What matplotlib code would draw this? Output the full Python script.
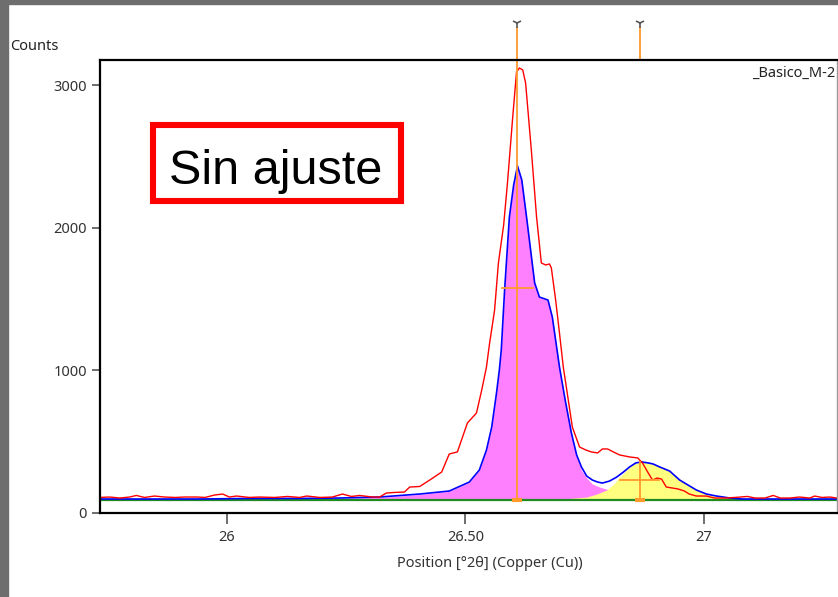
import numpy as np
import matplotlib.pyplot as plt
from matplotlib import font_manager
from matplotlib.patches import Rectangle

# Observed profile (red)
obs_x = [25.733, 25.754, 25.775, 25.796, 25.810, 25.827, 25.848, 25.869, 25.891, 25.911,
         25.937, 25.954, 25.974, 25.991, 26.005, 26.020, 26.047, 26.068, 26.100, 26.127,
         26.152, 26.167, 26.195, 26.221, 26.242, 26.261, 26.278, 26.305, 26.320, 26.334,
         26.351, 26.372, 26.383, 26.404, 26.425, 26.450, 26.466, 26.483, 26.504, 26.523,
         26.534, 26.544, 26.550, 26.561, 26.569, 26.580, 26.588, 26.599, 26.607, 26.613,
         26.620, 26.626, 26.638, 26.649, 26.659, 26.668, 26.676, 26.680, 26.689, 26.697,
         26.705, 26.724, 26.739, 26.752, 26.764, 26.777, 26.787, 26.798, 26.810, 26.823,
         26.844, 26.861, 26.871, 26.882, 26.892, 26.902, 26.911, 26.921, 26.934, 26.946,
         26.959, 26.969, 26.984, 27.005, 27.022, 27.044, 27.065, 27.091, 27.107, 27.128,
         27.145, 27.160, 27.180, 27.200, 27.222, 27.232, 27.247, 27.264, 27.278]
obs_y = [109, 112, 105, 112, 123, 109, 119, 112, 109, 112,
         112, 109, 126, 133, 112, 119, 109, 112, 109, 116,
         109, 119, 109, 112, 133, 116, 123, 112, 112, 140,
         144, 147, 182, 186, 231, 287, 414, 428, 631, 701,
         862, 1024, 1178, 1423, 1753, 2019, 2314, 2776, 3092, 3120,
         3106, 3015, 2545, 2075, 1753, 1739, 1746, 1718, 1493, 1262,
         1024, 603, 463, 442, 428, 421, 449, 449, 428, 407,
         393, 386, 351, 287, 231, 245, 238, 182, 175, 168,
         154, 133, 119, 119, 105, 105, 109, 116, 105, 105,
         123, 105, 105, 112, 105, 119, 109, 112, 105]

# Calculated profile (blue)
calc_x = [25.733, 25.942, 26.047, 26.152, 26.236, 26.320, 26.404, 26.466, 26.508, 26.529,
          26.544, 26.555, 26.565, 26.571, 26.575, 26.582, 26.592, 26.601, 26.609, 26.618,
          26.628, 26.645, 26.655, 26.667, 26.673, 26.682, 26.697, 26.709, 26.722, 26.733,
          26.743, 26.754, 26.766, 26.777, 26.787, 26.802, 26.817, 26.831, 26.844, 26.857,
          26.869, 26.883, 26.893, 26.907, 26.928, 26.949, 26.970, 26.984, 27.005, 27.026,
          27.054, 27.081, 27.278]
calc_y = [98, 98, 102, 102, 105, 112, 133, 154, 217, 301,
          442, 603, 841, 1003, 1143, 1563, 2075, 2300, 2433, 2335,
          2075, 1613, 1514, 1500, 1493, 1374, 1024, 792, 561, 407,
          323, 259, 231, 217, 210, 224, 252, 287, 323, 351,
          358, 351, 344, 323, 294, 231, 189, 161, 133, 119,
          105, 98, 98]

# Peak 1 component (magenta)
p1_x = [25.733, 26.047, 26.236, 26.320, 26.404, 26.466, 26.508, 26.529, 26.544, 26.555,
        26.565, 26.571, 26.575, 26.582, 26.592, 26.601, 26.609, 26.618, 26.628, 26.645,
        26.655, 26.667, 26.673, 26.682, 26.697, 26.709, 26.722, 26.733, 26.743, 26.754,
        26.766, 26.781, 26.802, 26.823, 26.844, 26.865, 26.907, 26.990, 27.075, 27.278]
p1_y = [97, 100, 103, 109, 130, 152, 215, 299, 440, 600,
        838, 1000, 1140, 1560, 2072, 2297, 2430, 2332, 2072, 1610,
        1510, 1496, 1489, 1368, 1016, 782, 547, 393, 301, 245,
        203, 182, 161, 140, 126, 116, 109, 102, 98, 96]

# Peak 2 component (yellow)
p2_x = [26.588, 26.655, 26.718, 26.754, 26.775, 26.796, 26.811, 26.823, 26.838, 26.850,
        26.865, 26.883, 26.893, 26.907, 26.928, 26.949, 26.970, 26.984, 27.005, 27.026,
        27.054, 27.081, 27.278]
p2_y = [96, 98, 102, 112, 133, 161, 203, 252, 301, 337,
        358, 351, 344, 323, 294, 231, 189, 161, 133, 119,
        105, 98, 96]

background = 91
peak_pos = [26.609, 26.865]
peak_top = [3176, 358]
half_height = [1577, 231]
fwhm = [0.067, 0.082]

names = {f.name for f in font_manager.fontManager.ttflist}
big_font = 'Liberation Sans Narrow' if 'Liberation Sans Narrow' in names else 'Liberation Sans'
big_size = 40 if big_font == 'Liberation Sans Narrow' else 35
plt.rcParams['font.family'] = ['Noto Sans', 'DejaVu Sans']

fig = plt.figure(figsize=(8.38, 5.97), dpi=100)
ax = fig.add_axes([100 / 838, 84 / 597, 737 / 838, 453 / 597])

bg1 = np.full(len(p1_x), background)
bg2 = np.full(len(p2_x), background)
ax.fill_between(p1_x, bg1, p1_y, color='#ff80ff', lw=0)
ax.fill_between(p2_x, bg2, p2_y, color='#ffff80', lw=0)
ax.axhline(background, color='#1f8a1f', lw=1.6)
ax.plot(calc_x, calc_y, color='#0000ff', lw=1.2)
ax.plot(obs_x, obs_y, color='#ff0000', lw=1.0)

# peak markers
orange = '#ff9a2e'
trans = ax.get_xaxis_transform()
for i, p in enumerate(peak_pos):
    ax.plot([p, p], [background, peak_top[i]], color=orange, lw=1.3)
    ax.plot([p - fwhm[i] / 2, p + fwhm[i] / 2], [half_height[i]] * 2, color=orange, lw=1.3)
    ax.plot([p], [background], marker='_', ms=7, mew=3, color=orange)
    ax.plot([p, p], [1.0, 1.071], color=orange, lw=1.3, transform=trans, clip_on=False)
    ax.plot([p], [1.082], marker='1', ms=7, mew=1.2, color='#555555',
            transform=trans, clip_on=False)

ax.set_xlim(25.7338, 27.2788)
ax.set_ylim(0, 3176)
ax.set_xticks([26, 26.5, 27])
ax.set_xticklabels(['26', '26.50', '27'])
ax.set_yticks([0, 1000, 2000, 3000])
ax.tick_params(axis='x', length=8, width=1.2, color='#555555', pad=4,
               labelsize=10.5, labelcolor='#333333')
ax.tick_params(axis='y', length=6, width=1.2, color='#555555', pad=3.5,
               labelsize=10.5, labelcolor='#333333')
for s in ['left', 'bottom', 'top']:
    ax.spines[s].set_linewidth(1.6)
    ax.spines[s].set_color('black')
ax.spines['right'].set_linewidth(1)
ax.spines['right'].set_color('#999999')

ax.set_xlabel('Position [°2θ] (Copper (Cu))', fontsize=10.5, color='#333333')
ax.xaxis.set_label_coords(0.529, -0.095)
fig.text(10 / 838, 1 - 47 / 597, 'Counts', fontsize=10.5, va='center', ha='left', color='#222222')
ax.text(0.998, 0.970, '_Basico_M-2', transform=ax.transAxes, ha='right', va='center',
        fontsize=10.5, color='#222222')

# annotation box
ax.add_patch(Rectangle((0.0719, 0.6887), 0.3365, 0.1678, transform=ax.transAxes,
                       fill=True, fc='white', ec='#ff0000', lw=4.4, zorder=5))
ax.text(0.2388, 0.726, 'Sin ajuste', transform=ax.transAxes, ha='center', va='baseline',
        fontsize=big_size, family=big_font, color='black', zorder=6)

# window frame
fig.patches.append(Rectangle((0, 0), 8 / 838, 1, transform=fig.transFigure,
                             color='#6e6e6e', zorder=0))
fig.patches.append(Rectangle((0, 1 - 4 / 597), 1, 4 / 597, transform=fig.transFigure,
                             color='#6e6e6e', zorder=0))

fig.savefig('out.png', dpi=100)
